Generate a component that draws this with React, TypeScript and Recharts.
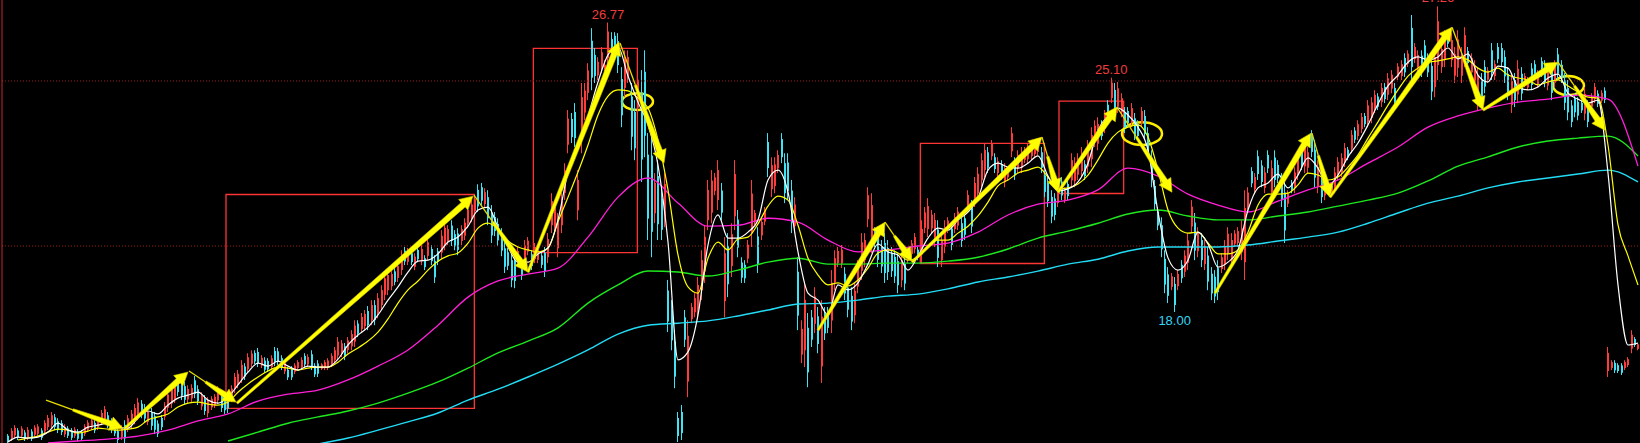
import {
  ComposedChart,
  Bar,
  Line,
  XAxis,
  YAxis,
  ReferenceLine,
  ReferenceArea,
  ReferenceDot,
} from "recharts";

// daily bars, each one is [open, close, high, low]
const candles: number[][] = [
  [14.25,14.08,14.30,14.03],[14.17,14.40,14.48,14.09],[14.26,14.49,14.57,14.18],[14.41,14.19,14.48,14.12],[14.25,14.47,14.54,14.18],
  [14.35,14.16,14.42,14.09],[14.20,14.43,14.51,14.12],[14.38,14.16,14.45,14.09],[14.28,14.50,14.57,14.21],[14.31,14.53,14.60,14.24],
  [14.41,14.19,14.48,14.12],[14.38,14.64,14.72,14.30],[14.51,14.79,14.88,14.42],[14.58,14.87,14.97,14.48],[14.81,14.52,14.91,14.42],
  [14.69,14.42,14.78,14.33],[14.63,14.36,14.72,14.27],[14.29,14.52,14.60,14.21],[14.47,14.25,14.54,14.18],[14.41,14.19,14.48,14.12],
  [14.25,14.44,14.51,14.18],[14.38,14.16,14.45,14.09],[14.35,14.16,14.42,14.09],[14.31,14.53,14.60,14.24],[14.43,14.65,14.72,14.36],
  [14.49,14.71,14.78,14.42],[14.64,14.41,14.72,14.33],[14.50,14.73,14.81,14.42],[14.66,14.94,15.03,14.57],[14.76,15.05,15.15,14.66],
  [14.87,14.58,14.97,14.48],[14.69,14.42,14.78,14.33],[14.58,14.32,14.66,14.24],[14.39,14.12,14.48,14.03],[14.21,14.48,14.57,14.12],
  [14.58,14.17,14.72,14.03],[14.46,14.78,14.88,14.36],[14.59,14.92,15.03,14.48],[14.72,15.09,15.21,14.60],[14.85,15.26,15.39,14.72],
  [15.22,14.89,15.33,14.78],[15.10,14.77,15.21,14.66],[14.67,14.99,15.09,14.57],[14.96,14.55,15.09,14.42],[14.84,14.43,14.97,14.30],
  [14.62,14.31,14.72,14.21],[14.79,14.51,14.88,14.42],[14.83,15.16,15.27,14.72],[15.10,15.50,15.63,14.97],[15.23,15.64,15.78,15.09],
  [15.36,15.73,15.85,15.24],[15.91,15.57,16.03,15.45],[15.87,15.46,16.00,15.33],[15.75,15.34,15.88,15.21],[15.35,15.67,15.78,15.24],
  [15.38,15.70,15.81,15.27],[15.93,15.52,16.06,15.39],[15.66,15.30,15.78,15.18],[15.14,15.46,15.57,15.03],[15.36,15.00,15.48,14.88],
  [14.93,15.30,15.42,14.81],[15.11,15.37,15.45,15.03],[15.17,15.43,15.51,15.09],[15.32,15.64,15.75,15.21],[15.45,15.09,15.57,14.97],
  [15.34,15.02,15.45,14.91],[15.44,15.07,15.57,14.94],[15.37,15.68,15.78,15.27],[15.66,16.03,16.15,15.54],[15.80,16.13,16.24,15.69],
  [15.99,16.40,16.54,15.85],[16.35,16.04,16.45,15.94],[16.27,16.63,16.75,16.15],[16.43,16.74,16.84,16.33],[16.76,16.50,16.84,16.42],
  [16.79,16.45,16.91,16.33],[16.38,16.61,16.69,16.30],[16.53,16.25,16.63,16.15],[16.52,16.26,16.60,16.18],[16.33,16.60,16.69,16.24],
  [16.82,16.48,16.94,16.36],[16.81,16.49,16.91,16.39],[16.60,16.33,16.69,16.24],[16.20,16.46,16.54,16.12],[16.25,16.02,16.33,15.94],
  [16.28,16.02,16.36,15.94],[16.19,16.38,16.45,16.12],[16.30,16.48,16.54,16.24],[16.32,16.55,16.63,16.24],[16.67,16.41,16.75,16.33],
  [16.41,16.64,16.72,16.33],[16.72,16.36,16.84,16.24],[16.37,16.11,16.45,16.03],[16.44,16.13,16.54,16.03],[16.28,16.41,16.45,16.24],
  [16.30,16.48,16.54,16.24],[16.31,16.53,16.60,16.24],[16.41,16.67,16.75,16.33],[16.55,16.84,16.94,16.45],[16.68,17.10,17.24,16.54],
  [16.73,17.05,17.15,16.63],[16.96,16.64,17.06,16.54],[16.85,17.14,17.24,16.75],[16.96,17.33,17.45,16.84],[17.10,17.59,17.75,16.94],
  [17.65,17.34,17.75,17.24],[17.48,17.85,17.97,17.36],[17.57,17.94,18.06,17.45],[18.03,17.60,18.18,17.45],[17.75,18.21,18.36,17.60],
  [18.21,17.75,18.36,17.60],[17.96,18.42,18.57,17.81],[18.21,18.66,18.81,18.06],[18.52,19.02,19.18,18.36],[18.66,19.12,19.27,18.51],
  [18.78,19.15,19.27,18.66],[19.23,18.91,19.33,18.81],[19.03,19.39,19.51,18.91],[19.27,19.72,19.87,19.12],[19.86,19.53,19.97,19.42],
  [19.52,19.84,19.94,19.42],[19.78,19.51,19.87,19.42],[19.37,19.68,19.78,19.27],[19.88,19.60,19.97,19.51],[19.54,19.91,20.03,19.42],
  [19.63,19.36,19.72,19.27],[19.70,20.11,20.24,19.57],[19.91,19.54,20.03,19.42],[19.55,19.05,19.72,18.88],[19.84,19.52,19.94,19.42],
  [19.80,20.31,20.48,19.63],[20.04,20.55,20.72,19.87],[20.15,20.51,20.63,20.03],[20.62,20.16,20.78,20.00],[20.36,19.99,20.48,19.87],
  [20.38,19.88,20.54,19.72],[20.15,20.51,20.63,20.03],[20.31,20.71,20.84,20.18],[20.68,21.10,21.24,20.54],[20.85,21.26,21.39,20.72],
  [21.06,21.42,21.54,20.94],[21.70,21.20,21.87,21.03],[21.78,21.37,21.91,21.24],[21.27,21.63,21.75,21.15],[21.48,20.84,21.69,20.63],
  [21.01,20.32,21.24,20.09],[20.88,20.45,21.03,20.30],[20.67,20.17,20.84,20.00],[20.37,19.86,20.54,19.69],[19.93,19.37,20.12,19.18],
  [19.81,19.40,19.94,19.27],[19.57,18.96,19.78,18.75],[19.59,18.94,19.81,18.72],[19.48,19.85,19.97,19.36],[19.50,19.10,19.63,18.97],
  [19.55,20.02,20.18,19.39],[19.83,20.16,20.27,19.72],[19.75,19.39,19.87,19.27],[19.60,19.97,20.09,19.48],[19.58,19.87,19.97,19.48],
  [19.71,19.43,19.81,19.33],[19.79,19.24,19.97,19.06],[19.66,20.21,20.39,19.48],[20.63,21.36,21.60,20.39],[20.59,21.19,21.39,20.39],
  [19.93,20.73,21.00,19.66],[20.63,21.36,21.60,20.39],[21.61,22.29,22.51,21.39],[23.07,23.86,24.12,22.81],[23.85,23.30,24.03,23.12],
  [24.06,23.27,24.33,23.00],[21.08,22.00,22.30,20.78],[23.24,24.51,24.94,22.81],[24.04,24.71,24.94,23.81],[24.64,25.32,25.54,24.42],
  [26.22,25.10,26.60,24.72],[25.79,25.15,26.00,24.94],[25.17,25.58,25.72,25.03],[25.40,25.87,26.03,25.24],[25.08,25.49,25.63,24.94],
  [25.69,26.50,26.77,25.42],[26.27,25.63,26.48,25.42],[26.37,26.04,26.48,25.93],[26.21,25.48,26.45,25.24],[25.06,23.96,25.42,23.60],
  [24.79,25.65,25.93,24.51],[25.14,25.73,25.93,24.94],[24.53,23.31,24.94,22.90],[24.06,22.96,24.42,22.60],[24.19,25.04,25.33,23.90],
  [24.65,22.62,25.33,21.94],[25.28,23.34,25.93,22.69],[22.77,20.83,23.42,20.18],[22.74,20.43,23.51,19.66],[20.99,21.91,22.21,20.69],
  [22.12,20.66,22.60,20.18],[21.44,20.49,21.75,20.18],[20.90,21.88,22.21,20.57],[18.65,17.71,18.97,17.39],[18.06,17.14,18.36,16.84],
  [17.10,16.04,17.45,15.69],[14.79,14.24,14.97,14.06],[14.97,14.33,15.18,14.12],[17.84,17.16,18.06,16.94],[15.89,17.28,17.75,15.42],
  [17.78,18.15,18.27,17.66],[17.99,18.42,18.57,17.84],[18.08,18.82,19.06,17.84],[18.66,19.57,19.87,18.36],[19.23,20.28,20.63,18.88],
  [20.78,21.70,22.00,20.48],[21.01,21.98,22.30,20.69],[21.67,22.08,22.21,21.54],[21.39,22.30,22.60,21.09],[21.68,21.01,21.91,20.78],
  [18.33,19.78,20.27,17.84],[20.00,18.84,20.39,18.45],[19.39,20.36,20.69,19.06],[20.90,22.18,22.60,20.48],[20.80,19.95,21.09,19.66],
  [19.50,19.04,19.66,18.88],[19.43,19.02,19.57,18.88],[19.62,20.04,20.18,19.48],[20.38,21.59,22.00,19.97],[20.72,21.00,21.09,20.63],
  [20.29,19.46,20.57,19.18],[20.32,20.73,20.87,20.18],[20.74,21.07,21.18,20.63],[23.15,22.36,23.42,22.09],[21.72,22.45,22.69,21.48],
  [21.82,22.47,22.69,21.60],[22.35,22.76,22.90,22.21],[23.24,22.69,23.42,22.51],[22.51,21.60,22.81,21.30],[22.53,21.67,22.81,21.39],
  [21.68,20.71,22.00,20.39],[20.61,21.26,21.48,20.39],[19.22,17.89,19.66,17.45],[16.71,17.49,17.75,16.45],[16.84,18.37,18.88,16.33],
  [17.52,16.17,17.97,15.72],[17.84,17.16,18.06,16.94],[17.64,18.47,18.75,17.36],[17.87,17.03,18.15,16.75],[16.35,17.86,18.36,15.85],
  [17.95,17.35,18.15,17.15],[17.99,17.52,18.15,17.36],[17.74,18.89,19.27,17.36],[18.90,19.63,19.87,18.66],[19.48,19.85,19.97,19.36],
  [19.47,19.89,20.03,19.33],[19.16,18.56,19.36,18.36],[18.74,18.07,18.97,17.84],[18.49,17.71,18.75,17.45],[17.90,18.64,18.88,17.66],
  [18.77,19.37,19.57,18.57],[19.25,20.11,20.39,18.97],[19.57,20.18,20.39,19.36],[20.81,21.54,21.78,20.57],[20.14,21.24,21.60,19.78],
  [20.45,20.09,20.57,19.97],[20.26,19.58,20.48,19.36],[19.98,19.38,20.18,19.18],[20.09,19.18,20.39,18.88],[19.94,19.21,20.18,18.97],
  [19.79,19.24,19.97,19.06],[19.67,19.08,19.87,18.88],[19.54,18.81,19.78,18.57],[18.96,19.57,19.78,18.75],[19.46,18.86,19.66,18.66],
  [19.58,19.87,19.97,19.48],[19.76,20.08,20.18,19.66],[19.90,20.27,20.39,19.78],[19.89,19.65,19.97,19.57],[19.74,20.52,20.78,19.48],
  [20.55,21.02,21.18,20.39],[20.51,21.21,21.45,20.27],[20.53,20.95,21.09,20.39],[20.18,20.79,21.00,19.97],[20.50,19.64,20.78,19.36],
  [19.57,20.18,20.39,19.36],[19.98,20.58,20.78,19.78],[20.49,20.77,20.87,20.39],[20.53,20.03,20.69,19.87],[20.51,20.88,21.00,20.39],
  [20.62,21.04,21.18,20.48],[20.69,20.15,20.87,19.97],[20.84,20.34,21.00,20.18],[21.14,21.55,21.69,21.00],[21.19,20.59,21.39,20.39],
  [21.36,21.91,22.09,21.18],[21.59,22.19,22.39,21.39],[21.99,22.60,22.81,21.78],[22.30,22.91,23.12,22.09],[22.84,22.37,23.00,22.21],
  [22.72,23.09,23.21,22.60],[22.69,22.33,22.81,22.21],[22.21,22.57,22.69,22.09],[22.48,22.12,22.60,22.00],[21.93,22.36,22.51,21.78],
  [22.08,22.31,22.39,22.00],[22.87,23.42,23.60,22.69],[22.55,22.14,22.69,22.00],[22.35,22.76,22.90,22.21],[22.37,22.84,23.00,22.21],
  [22.61,22.90,23.00,22.51],[22.63,23.00,23.12,22.51],[22.72,23.09,23.21,22.60],[22.79,23.11,23.21,22.69],[22.85,23.17,23.27,22.75],
  [22.84,22.37,23.00,22.21],[22.14,21.64,22.30,21.48],[21.91,21.36,22.09,21.18],[21.49,20.89,21.69,20.69],[21.44,20.94,21.60,20.78],
  [21.30,21.66,21.78,21.18],[21.95,21.53,22.09,21.39],[21.40,21.68,21.78,21.30],[21.88,21.51,22.00,21.39],[21.99,22.60,22.81,21.78],
  [21.96,22.51,22.69,21.78],[22.16,22.65,22.81,22.00],[22.27,22.82,23.00,22.09],[22.48,22.12,22.60,22.00],[22.41,23.01,23.21,22.21],
  [22.63,23.36,23.60,22.39],[23.16,23.65,23.81,23.00],[23.10,23.70,23.90,22.90],[23.69,23.33,23.81,23.21],[23.56,23.98,24.12,23.42],
  [24.28,23.86,24.42,23.72],[24.48,24.95,25.10,24.33],[24.73,24.11,24.94,23.90],[24.22,24.78,24.97,24.03],[24.05,24.48,24.63,23.90],
  [24.05,23.58,24.21,23.42],[24.09,23.72,24.21,23.60],[23.75,24.18,24.33,23.60],[23.87,23.37,24.03,23.21],[23.69,23.33,23.81,23.21],
  [23.72,24.09,24.21,23.60],[23.94,23.39,24.12,23.21],[23.42,22.87,23.60,22.69],[22.68,22.00,22.90,21.78],[21.82,21.27,22.00,21.09],
  [21.04,20.62,21.18,20.48],[20.63,19.90,20.87,19.66],[19.61,18.83,19.87,18.57],[19.14,18.49,19.36,18.27],[18.76,19.08,19.18,18.66],
  [18.85,18.21,19.06,18.00],[18.78,19.15,19.27,18.66],[19.43,19.02,19.57,18.88],[19.22,19.71,19.87,19.06],[19.49,20.17,20.39,19.27],
  [20.59,21.19,21.39,20.39],[20.71,19.86,21.00,19.57],[19.84,20.39,20.57,19.66],[20.18,19.57,20.39,19.36],[19.45,20.00,20.18,19.27],
  [19.71,18.92,19.97,18.66],[19.16,18.56,19.36,18.36],[19.07,18.47,19.27,18.27],[19.33,18.60,19.57,18.36],[19.30,19.66,19.78,19.18],
  [19.45,20.00,20.18,19.27],[19.77,20.37,20.57,19.57],[19.57,20.18,20.39,19.36],[20.07,20.38,20.48,19.97],[20.09,20.45,20.57,19.97],
  [19.81,20.54,20.78,19.57],[19.51,21.15,21.69,18.97],[21.16,21.62,21.78,21.00],[22.27,21.90,22.39,21.78],[21.72,22.09,22.21,21.60],
  [22.72,22.18,22.90,22.00],[22.44,21.94,22.60,21.78],[21.76,22.23,22.39,21.60],[22.76,22.35,22.90,22.21],[21.63,22.36,22.60,21.39],
  [22.68,22.00,22.90,21.78],[22.46,22.05,22.60,21.91],[22.00,21.39,22.21,21.18],[21.62,20.47,22.00,20.09],[21.28,21.59,21.69,21.18],
  [21.92,21.68,22.00,21.60],[21.76,22.23,22.39,21.60],[22.16,22.65,22.81,22.00],[22.86,22.44,23.00,22.30],[22.41,23.01,23.21,22.21],
  [22.37,22.84,23.00,22.21],[23.35,22.85,23.51,22.69],[22.92,22.07,23.21,21.78],[21.80,22.40,22.60,21.60],[22.03,21.48,22.21,21.30],
  [21.53,21.95,22.09,21.39],[21.68,21.92,22.00,21.60],[21.57,21.82,21.91,21.48],[21.76,22.23,22.39,21.60],[22.14,22.55,22.69,22.00],
  [22.23,22.67,22.81,22.09],[22.54,22.97,23.12,22.39],[22.92,22.68,23.00,22.60],[22.95,23.37,23.51,22.81],[23.50,23.22,23.60,23.12],
  [23.33,23.69,23.81,23.21],[23.54,23.91,24.03,23.42],[23.94,23.69,24.03,23.60],[23.76,24.26,24.42,23.60],[23.88,24.35,24.51,23.72],
  [24.17,24.58,24.72,24.03],[24.53,24.22,24.63,24.12],[24.36,24.79,24.94,24.21],[24.82,24.45,24.94,24.33],[24.58,25.08,25.24,24.42],
  [24.77,25.19,25.33,24.63],[24.79,24.36,24.94,24.21],[25.13,25.44,25.54,25.03],[25.15,25.51,25.63,25.03],[25.70,25.26,25.84,25.12],
  [25.52,25.83,25.93,25.42],[26.61,25.42,27.00,25.03],[25.66,26.03,26.15,25.54],[25.38,25.79,25.93,25.24],[25.77,25.28,25.93,25.12],
  [26.08,25.58,26.24,25.42],[25.70,25.26,25.84,25.12],[25.46,24.68,25.72,24.42],[24.81,25.73,26.03,24.51],[25.48,26.81,27.26,25.03],
  [25.42,25.97,26.15,25.24],[25.64,26.32,26.54,25.42],[26.44,26.13,26.54,26.03],[25.63,26.24,26.45,25.42],[25.16,25.81,26.03,24.94],
  [25.40,26.26,26.54,25.12],[25.16,25.81,26.03,24.94],[25.66,26.39,26.63,25.42],[25.91,25.54,26.03,25.42],[25.26,25.70,25.84,25.12],
  [24.97,25.47,25.63,24.81],[24.38,25.16,25.42,24.12],[25.03,24.42,25.24,24.21],[25.43,24.83,25.63,24.63],[25.04,25.32,25.42,24.94],
  [25.93,25.25,26.15,25.03],[25.15,25.51,25.63,25.03],[26.03,25.66,26.15,25.54],[26.00,25.57,26.15,25.42],[25.73,25.14,25.93,24.94],
  [25.22,24.62,25.42,24.42],[24.27,25.00,25.24,24.03],[25.03,24.42,25.24,24.21],[24.59,25.37,25.63,24.33],[25.22,24.62,25.42,24.42],
  [24.90,25.15,25.24,24.81],[24.80,25.04,25.12,24.72],[25.38,24.88,25.54,24.72],[25.51,25.15,25.63,25.03],[24.91,25.23,25.33,24.81],
  [25.60,25.24,25.72,25.12],[25.47,24.97,25.63,24.81],[24.86,25.28,25.42,24.72],[25.32,24.64,25.54,24.42],[24.97,25.47,25.63,24.81],
  [25.81,25.22,26.00,25.03],[25.49,25.08,25.63,24.94],[25.02,24.34,25.24,24.12],[24.79,24.05,25.03,23.81],[24.26,23.76,24.42,23.60],
  [24.48,24.05,24.63,23.90],[24.37,23.95,24.51,23.81],[24.34,24.11,24.42,24.03],[24.01,24.61,24.81,23.81],[24.26,23.76,24.42,23.60],
  [24.22,24.53,24.63,24.12],[24.45,24.82,24.94,24.33],[24.62,24.31,24.72,24.21],[24.41,24.64,24.72,24.33],[24.71,24.43,24.81,24.33],
  [16.21,16.76,16.94,16.03],[16.30,16.48,16.54,16.24],[16.46,16.23,16.54,16.15],[16.39,16.21,16.45,16.15],[16.38,16.16,16.45,16.09],
  [16.30,16.48,16.54,16.24],[16.39,16.57,16.63,16.33],[16.89,17.31,17.45,16.75],[17.18,17.00,17.24,16.94],[16.88,17.02,17.06,16.84],
];

// moving averages, read every 3rd bar (short) or every 9th bar (long)
const ma5 = [
  14.06,14.21,14.18,14.21,14.36,14.63,14.42,14.36,14.51,14.57,
  14.63,14.51,14.48,14.79,15.00,14.91,15.18,15.39,15.48,15.57,
  15.33,15.24,15.42,15.79,16.18,16.45,16.36,16.51,16.36,16.24,
  16.36,16.33,16.33,16.57,17.00,17.30,17.54,17.91,18.36,18.76,
  19.21,19.54,19.57,19.76,20.12,20.27,20.60,21.09,21.18,20.57,
  19.97,19.51,19.51,19.76,19.94,20.79,22.24,23.06,23.94,24.97,
  25.79,26.03,25.15,24.36,23.67,22.45,20.12,16.55,16.79,17.91,
  20.03,20.94,20.24,20.24,20.42,20.79,22.00,22.30,21.63,19.82,
  18.57,18.36,17.91,18.82,18.67,18.88,19.45,20.06,19.82,19.73,
  19.27,19.70,20.24,20.54,20.48,20.79,21.03,21.45,22.30,22.51,
  22.39,22.36,22.51,22.73,22.12,21.67,21.73,21.94,22.51,23.51,
  23.94,24.18,23.97,23.60,22.91,21.03,19.64,19.27,19.57,20.42,
  20.06,19.36,19.51,19.88,21.09,21.76,21.91,22.18,21.76,22.15,
  22.67,22.36,21.82,22.15,22.70,23.12,23.67,24.30,24.85,25.18,
  25.57,25.73,25.64,25.73,26.00,25.67,25.82,25.18,24.97,25.45,
  25.39,24.82,24.73,24.82,25.09,25.21,24.63,24.45,24.33,24.42,
  22.21,18.82,17.00,17.06,
];
const ma10 = [
  14.12,14.18,14.24,14.36,14.45,14.42,14.33,14.39,14.48,14.45,
  14.42,14.45,14.51,14.73,14.82,14.91,15.12,15.24,15.27,15.21,
  15.18,15.27,15.57,15.82,16.03,16.21,16.33,16.30,16.24,16.30,
  16.33,16.33,16.48,16.73,16.91,17.12,17.39,17.79,18.27,18.67,
  18.94,19.27,19.54,19.70,19.79,20.09,20.54,20.69,20.51,20.15,
  19.97,19.88,19.82,19.94,20.73,21.48,22.24,23.06,23.97,24.54,
  24.73,24.70,24.48,24.18,23.21,21.70,19.73,18.76,18.57,19.63,
  20.12,19.88,20.21,20.27,20.67,21.21,21.51,21.39,20.63,19.63,
  19.12,18.82,18.88,18.79,18.97,19.33,19.79,19.88,19.79,19.57,
  19.66,20.00,20.18,20.18,20.39,20.60,20.91,21.33,21.82,22.00,
  22.21,22.30,22.39,22.09,21.73,21.76,21.88,22.15,22.61,23.12,
  23.45,23.60,23.67,23.30,22.30,21.09,20.54,20.39,20.42,20.09,
  19.76,19.76,19.88,20.42,21.24,21.57,21.57,21.60,21.85,22.21,
  22.15,22.00,22.09,22.39,22.76,23.27,23.76,24.27,24.73,25.15,
  25.39,25.57,25.61,25.67,25.73,25.64,25.39,25.27,25.39,25.18,
  25.09,25.03,24.88,24.97,25.03,24.85,24.67,24.51,24.48,23.06,
  20.64,19.70,18.82,
];
const ma30 = [
  14.03,14.09,14.15,14.24,14.42,14.70,14.91,15.30,15.51,15.63,
  15.94,16.36,16.85,17.60,18.45,18.94,19.15,19.33,20.27,21.48,
  22.06,21.30,20.60,20.63,20.84,20.72,20.18,19.82,19.88,20.00,
  20.09,20.42,20.94,21.27,21.39,21.70,22.36,22.12,21.57,21.24,
  21.03,21.36,21.70,22.00,22.51,23.00,23.60,23.94,24.18,24.36,
  24.45,24.57,24.45,22.42,
];
const ma60 = [
  14.09,14.36,14.63,14.82,15.00,15.24,15.54,15.88,16.30,16.76,
  17.12,17.52,18.27,18.82,19.24,19.21,19.09,19.27,19.51,19.63,
  19.45,19.45,19.48,19.48,19.54,19.66,19.91,20.24,20.45,20.69,
  20.97,21.09,20.91,20.79,20.79,20.91,21.03,21.21,21.39,21.60,
  21.97,22.42,22.70,23.00,23.18,23.27,23.33,22.73,
];
const ma120 = [
  14.00,14.18,14.42,14.67,14.94,15.33,15.66,16.03,16.42,16.85,
  17.33,17.60,17.66,17.73,17.88,18.06,18.24,18.27,18.36,18.48,
  18.54,18.70,18.91,19.06,19.24,19.45,19.60,19.85,19.97,19.97,
  19.97,20.03,20.15,20.27,20.42,20.69,21.00,21.30,21.51,21.76,
  21.94,22.06,22.18,22.30,21.94,
];

const priceLevels = [25, 20];

// hand-drawn marks: boxes [bar1, bar2, top, bottom]
const boxes = [
  [65.4, 139.9, 21.56, 15.08],
  [157.6, 188.8, 25.99, 19.8],
  [273.7, 310.9, 23.11, 19.47],
  [315.3, 334.7, 24.39, 21.59],
];
const rings = [
  [184.2, 193.5, 24.63, 24.12],
  [334.2, 346.2, 23.75, 23.06],
  [463.5, 472.8, 25.15, 24.57],
];
// arrows [bar from, price from, bar to, price to]
const arrows = [
  [11.4, 15.33, 34.5, 14.48],
  [35.1, 14.48, 54.0, 16.18],
  [54.3, 16.21, 68.4, 15.27],
  [68.7, 15.24, 139.5, 21.51],
  [139.8, 21.54, 156.0, 19.21],
  [156.0, 19.21, 183.3, 26.18],
  [183.6, 26.15, 196.8, 22.51],
  [243.0, 17.45, 263.1, 20.72],
  [263.1, 20.72, 271.2, 19.54],
  [271.2, 19.51, 310.2, 23.3],
  [310.2, 23.3, 315.0, 21.63],
  [315.0, 21.63, 332.7, 24.21],
  [332.7, 24.21, 349.2, 21.63],
  [362.1, 18.57, 390.9, 23.42],
  [391.2, 23.42, 396.6, 21.48],
  [396.6, 21.48, 433.2, 26.63],
  [433.2, 26.63, 442.5, 24.12],
  [442.5, 24.12, 465.0, 25.57],
  [465.0, 25.57, 479.1, 23.51],
];
const extremes = [
  { bar: 180, price: 26.77, text: "26.77", low: false },
  { bar: 331, price: 25.1, text: "25.10", low: false },
  { bar: 429, price: 27.26, text: "27.26", low: false },
  { bar: 350, price: 18.0, text: "18.00", low: true },
];

const UP = "#ff3c3c";
const DOWN = "#3fe3f3";
const FONT = "'Liberation Sans', Arial, sans-serif";

const bars = candles.map(([o, c, h, l], i) => ({ x: i, o, c, h, l, span: [l, h] }));
const series = (vals: number[], start: number, step: number) =>
  vals.map((v, k) => ({ x: start + k * step, v }));

function Candle(props: any) {
  const { x, width, y, height, payload } = props;
  if (!payload || y == null) return null;
  const { o, c, h, l } = payload;
  const top = Math.min(y, y + height);
  const hgt = Math.abs(height);
  const color = c >= o ? UP : DOWN;
  const mid = Math.round(x + width / 2);
  const py = (v: number) => top + ((h - v) / (h - l || 1)) * hgt;
  const b1 = py(Math.max(o, c));
  const b2 = py(Math.min(o, c));
  return (
    <g>
      <line x1={mid - 0.5} x2={mid - 0.5} y1={top} y2={top + hgt} stroke={color} strokeWidth={1} />
      <rect x={mid - 1} y={b1} width={2} height={Math.max(1, b2 - b1)} fill={color} />
    </g>
  );
}

function Arrow(props: any) {
  const { x1, y1, x2, y2 } = props;
  const dx = x2 - x1;
  const dy = y2 - y1;
  const len = Math.hypot(dx, dy);
  if (!len) return null;
  const ux = dx / len;
  const uy = dy / len;
  const nx = -uy;
  const ny = ux;
  // falling arrows start as a thin stroke
  const lead = dy > 0 ? 0.35 : 0;
  const sx = x1 + dx * lead;
  const sy = y1 + dy * lead;
  const head = 13;
  const bx = x2 - ux * head;
  const by = y2 - uy * head;
  const w0 = 1.2;
  const w1 = 3;
  const hw = 7;
  const pts = [
    [sx + nx * w0, sy + ny * w0],
    [bx + nx * w1, by + ny * w1],
    [bx + nx * hw, by + ny * hw],
    [x2, y2],
    [bx - nx * hw, by - ny * hw],
    [bx - nx * w1, by - ny * w1],
    [sx - nx * w0, sy - ny * w0],
  ]
    .map((p) => p.join(","))
    .join(" ");
  return (
    <g>
      {lead > 0 && <line x1={x1} y1={y1} x2={sx} y2={sy} stroke="#e8dc00" strokeWidth={1.3} />}
      <polygon points={pts} fill="#ffff00" stroke="#d8c800" strokeWidth={0.6} />
    </g>
  );
}

function Ring(props: any) {
  const { x, y, width, height } = props;
  return (
    <ellipse
      cx={x + width / 2}
      cy={y + height / 2}
      rx={width / 2}
      ry={height / 2}
      fill="none"
      stroke="#ffee00"
      strokeWidth={2.5}
    />
  );
}

export default function App() {
  return (
    <div style={{ width: 1640, height: 443, background: "#000" }}>
      <style>{"body{margin:0;background:#000;}"}</style>
      <ComposedChart
        width={1640}
        height={443}
        data={bars}
        margin={{ top: 0, right: 0, bottom: 0, left: 0 }}
      >
        <XAxis
          type="number"
          dataKey="x"
          domain={[-1.8, 489.6]}
          allowDataOverflow
          hide
        />
        <YAxis
          width={2}
          domain={[14.03, 27.4545]}
          allowDataOverflow
          tick={false}
          tickLine={false}
          axisLine={{ stroke: "#c8282c" }}
        />
        {priceLevels.map((p) => (
          <ReferenceLine key={p} y={p} stroke="#a01e1e" strokeDasharray="1 2" />
        ))}
        <Bar dataKey="span" shape={Candle} barSize={2} isAnimationActive={false} />
        <Line data={series(ma120, 93, 9)} dataKey="v" type="monotone" stroke="#22dcf5" strokeWidth={1.4} dot={false} isAnimationActive={false} />
        <Line data={series(ma60, 66, 9)} dataKey="v" type="monotone" stroke="#1ee81e" strokeWidth={1.4} dot={false} isAnimationActive={false} />
        <Line data={series(ma30, 12, 9)} dataKey="v" type="monotone" stroke="#ff1fd8" strokeWidth={1.3} dot={false} isAnimationActive={false} />
        <Line data={series(ma10, 3, 3)} dataKey="v" type="monotone" stroke="#ffff00" strokeWidth={1.2} dot={false} isAnimationActive={false} />
        <Line data={series(ma5, 0, 3)} dataKey="v" type="monotone" stroke="#ffffff" strokeWidth={1.2} dot={false} isAnimationActive={false} />
        {boxes.map(([a, b, t, btm], i) => (
          <ReferenceArea
            key={"b" + i}
            x1={a}
            x2={b}
            y1={btm}
            y2={t}
            fill="none"
            stroke="#ff3434"
            strokeWidth={1.3}
            ifOverflow="visible"
          />
        ))}
        {rings.map(([a, b, t, btm], i) => (
          <ReferenceArea key={"r" + i} x1={a} x2={b} y1={btm} y2={t} shape={Ring} ifOverflow="visible" />
        ))}
        {arrows.map(([a, pa, b, pb], i) => (
          <ReferenceLine
            key={"a" + i}
            segment={[{ x: a, y: pa }, { x: b, y: pb }]}
            shape={Arrow}
            ifOverflow="visible"
          />
        ))}
        {extremes.map((m) => (
          <ReferenceDot
            key={m.text}
            x={m.bar}
            y={m.price}
            r={0}
            fill="none"
            stroke="none"
            ifOverflow="visible"
            label={{
              value: m.text,
              position: m.low ? "bottom" : "top",
              offset: 4,
              fill: m.low ? "#33d6f5" : "#f03c3c",
              fontSize: 13,
              fontFamily: FONT,
            }}
          />
        ))}
      </ComposedChart>
    </div>
  );
}
